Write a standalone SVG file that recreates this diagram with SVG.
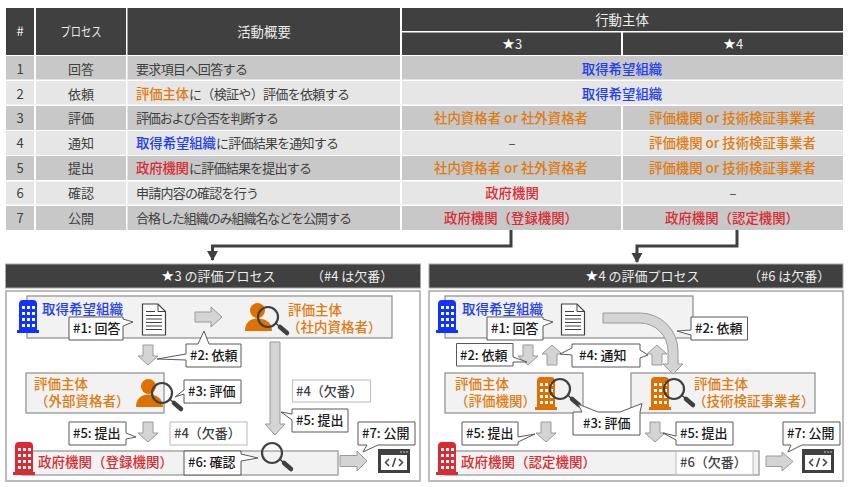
<svg xmlns="http://www.w3.org/2000/svg" width="850" height="487" viewBox="0 0 850 487">
<style>
text{font-family:"Noto Sans CJK JP","Noto Sans",sans-serif;font-size:13px;fill:#404040}
.m{text-anchor:middle}
.h{fill:#404040}.d{fill:#c8c8c8}.l{fill:#e6e6e6}
.hw{fill:#ededed;font-size:13px}
.o{fill:#e07b10}.b{fill:#1f3ff0}.r{fill:#d92b33}
.act{font-weight:500;font-size:13.4px}
.lab{font-size:13.5px;font-weight:500}
.box{fill:#f2f2f2;stroke:#8c8c8c;stroke-width:1.2}
.gov{fill:#f2f2f2;stroke:#a6a6a6;stroke-width:1.5}
.panel{fill:#fff;stroke:#a6a6a6;stroke-width:1.5}
.bar{fill:#404040;stroke:#a6a6a6;stroke-width:1}
.call{fill:#fff;stroke:#595959;stroke-width:1}
.miss{fill:#fff;stroke:#c4c4c4;stroke-width:1.2}
.ct{font-size:13px;font-weight:500;fill:#1a1a1a}
.mt{font-size:13px;fill:#404040;font-weight:500}
.ba{fill:#d4d4d4;stroke:#9a9a9a;stroke-width:1}
.c{fill:none;stroke:#404040;stroke-width:3}
.st{font-family:"DejaVu Sans",sans-serif;font-size:15px;fill:#fff}
</style>
<defs>
<marker id="tip" markerUnits="userSpaceOnUse" markerWidth="12" markerHeight="12" refX="9" refY="6" orient="auto"><path d="M0 0.500L10 6L0 11.500Z" fill="#404040"/></marker>
<polygon id="dn" points="-5,0 5,0 5,11 10,11 0,20 -10,11 -5,11"/>
<symbol id="bld" viewBox="0 0 22 33" width="22" height="33" overflow="visible">
<path d="M2 4Q2 0 6 0H16Q20 0 20 4V30H22V33H0V30H2Z" fill="currentColor"/>
<g fill="#fff"><rect x="5" y="6" width="3" height="3"/><rect x="10" y="6" width="3" height="3"/><rect x="15" y="6" width="3" height="3"/><rect x="5" y="12" width="3" height="3"/><rect x="10" y="12" width="3" height="3"/><rect x="15" y="12" width="3" height="3"/><rect x="5" y="18" width="3" height="3"/><rect x="10" y="18" width="3" height="3"/><rect x="15" y="18" width="3" height="3"/><rect x="5" y="24" width="3" height="3"/><rect x="10" y="24" width="3" height="3"/><rect x="15" y="24" width="3" height="3"/></g>
</symbol>
<g id="per" fill="#e07000"><circle cx="12.500" cy="7.500" r="7.500"/><path d="M0 28C0 19 6 15.500 13 15.500C20 15.500 27 19 27 28Z"/></g>
<g id="mag" fill="none" stroke="#404040"><circle r="10" stroke-width="2.200"/><path d="M7.500 6L12 10" stroke-width="1.500"/><path d="M12 10L19 16" stroke-width="4.500" stroke-linecap="round"/></g>
<g id="doc"><path d="M.5 .5H16L23.500 8V31.500H.5Z" fill="#fff" stroke="#404040" stroke-width="1.200"/><path d="M16 .5V8H23.500" fill="none" stroke="#404040"/><path d="M4 8H13M4 12H20M4 15.500H20M4 19H20M4 22.500H20M4 26H20" stroke="#404040" fill="none"/></g>
<g id="code"><rect width="32" height="24" fill="#404040"/><rect x="3" y="6" width="26" height="15" fill="#fff"/><path d="M22 3H24M25 3H27M28 3H30" stroke="#ccc" fill="none"/><path d="M11 10L7.500 13.500L11 17M21 10L24.500 13.500L21 17M17.500 9L14.500 18" fill="none" stroke="#404040" stroke-width="1.500"/></g>
</defs>
<rect width="850" height="487" fill="#fff"/>

<g id="table">
<g id="header">
<rect class="h" x="6" y="8" width="28" height="47"/><rect class="h" x="36" y="8" width="90" height="47"/><rect class="h" x="127.500" y="8" width="272.500" height="47"/>
<rect class="h" x="402" y="8" width="441" height="23"/><rect class="h" x="402" y="32.500" width="219" height="22.500"/><rect class="h" x="623" y="32.500" width="220" height="22.500"/>
<text class="hw m" x="20" y="36">#</text><text class="hw m" x="81" y="36" textLength="41" lengthAdjust="spacingAndGlyphs">プロセス</text><text class="hw m" x="264" y="36.500" style="font-size:13.400px">活動概要</text>
<text class="hw m" x="622" y="24.500" style="font-size:13.400px">行動主体</text><text class="hw m" x="512" y="49"><tspan class="st">★</tspan>3</text><text class="hw m" x="733" y="49"><tspan class="st">★</tspan>4</text>
</g>
<g id="rows">
<rect class="d" x="6" y="56" width="28" height="23.500"/><rect class="d" x="36" y="56" width="90" height="23.500"/><rect class="d" x="127.500" y="56" width="272.500" height="23.500"/><rect class="d" x="402" y="56" width="441" height="23.500"/>
<rect class="l" x="6" y="81" width="28" height="23.500"/><rect class="l" x="36" y="81" width="90" height="23.500"/><rect class="l" x="127.500" y="81" width="272.500" height="23.500"/><rect class="l" x="402" y="81" width="441" height="23.500"/>
<rect class="d" x="6" y="106" width="28" height="24"/><rect class="d" x="36" y="106" width="90" height="24"/><rect class="d" x="127.500" y="106" width="272.500" height="24"/><rect class="d" x="402" y="106" width="219" height="24"/><rect class="d" x="623" y="106" width="220" height="24"/>
<rect class="l" x="6" y="131" width="28" height="24"/><rect class="l" x="36" y="131" width="90" height="24"/><rect class="l" x="127.500" y="131" width="272.500" height="24"/><rect class="l" x="402" y="131" width="219" height="24"/><rect class="l" x="623" y="131" width="220" height="24"/>
<rect class="d" x="6" y="156" width="28" height="24"/><rect class="d" x="36" y="156" width="90" height="24"/><rect class="d" x="127.500" y="156" width="272.500" height="24"/><rect class="d" x="402" y="156" width="219" height="24"/><rect class="d" x="623" y="156" width="220" height="24"/>
<rect class="l" x="6" y="181.500" width="28" height="23"/><rect class="l" x="36" y="181.500" width="90" height="23"/><rect class="l" x="127.500" y="181.500" width="272.500" height="23"/><rect class="l" x="402" y="181.500" width="219" height="23"/><rect class="l" x="623" y="181.500" width="220" height="23"/>
<rect class="d" x="6" y="206" width="28" height="24"/><rect class="d" x="36" y="206" width="90" height="24"/><rect class="d" x="127.500" y="206" width="272.500" height="24"/><rect class="d" x="402" y="206" width="219" height="24"/><rect class="d" x="623" y="206" width="220" height="24"/>

<text class="m" x="20" y="73.500">1</text><text class="m" x="81" y="73.500">回答</text><text x="136" y="73.500" textLength="112">要求項目へ回答する</text><text class="b act m" x="622" y="73.500">取得希望組織</text>
<text class="m" x="20" y="98.500">2</text><text class="m" x="81" y="98.500">依頼</text><text class="o act" x="136" y="98.500" textLength="53">評価主体</text><text x="189" y="98.500" textLength="161">に（検証や）評価を依頼する</text><text class="b act m" x="622" y="98.500">取得希望組織</text>
<text class="m" x="20" y="123">3</text><text class="m" x="81" y="123">評価</text><text x="136" y="123" textLength="143">評価および合否を判断する</text><text class="o act" x="434" y="123" textLength="154">社内資格者 or 社外資格者</text><text class="o act" x="649" y="123" textLength="167">評価機関 or 技術検証事業者</text>
<text class="m" x="20" y="148">4</text><text class="m" x="81" y="148">通知</text><text class="b act" x="136" y="148" textLength="80">取得希望組織</text><text x="216" y="148" textLength="123">に評価結果を通知する</text><text class="m" x="512" y="148">–</text><text class="o act" x="649" y="148" textLength="167">評価機関 or 技術検証事業者</text>
<text class="m" x="20" y="173">5</text><text class="m" x="81" y="173">提出</text><text class="r act" x="136" y="173" textLength="53">政府機関</text><text x="189" y="173" textLength="123">に評価結果を提出する</text><text class="o act" x="434" y="173" textLength="154">社内資格者 or 社外資格者</text><text class="o act" x="649" y="173" textLength="167">評価機関 or 技術検証事業者</text>
<text class="m" x="20" y="198">6</text><text class="m" x="81" y="198">確認</text><text x="136" y="198" textLength="123">申請内容の確認を行う</text><text class="r act m" x="512" y="198">政府機関</text><text class="m" x="733" y="198">–</text>
<text class="m" x="20" y="223">7</text><text class="m" x="81" y="223">公開</text><text x="136" y="223" textLength="216">合格した組織のみ組織名などを公開する</text><text class="r act" x="444" y="223" textLength="134">政府機関（登録機関）</text><text class="r act" x="665" y="223" textLength="134">政府機関（認定機関）</text>
</g>
</g>

<g id="panel3-frame">
<rect class="bar" x="5.500" y="264" width="415" height="24"/>
<text class="hw" x="161" y="281"><tspan class="st">★</tspan>3 の評価プロセス</text>
<text class="hw" x="311" y="281">（#4 は欠番）</text>
<rect class="panel" x="6" y="291" width="414" height="190"/>
</g>
<g id="panel4-frame">
<rect class="bar" x="429" y="264" width="414" height="24"/>
<text class="hw" x="585" y="281"><tspan class="st">★</tspan>4 の評価プロセス</text>
<text class="hw" x="748" y="281">（#6 は欠番）</text>
<rect class="panel" x="429" y="291" width="414" height="190"/>
</g>

<g id="applicant3"><rect class="box" x="27" y="296" width="365" height="42"/><use href="#bld" x="17" y="300" color="#1133ff"/><text class="b lab" x="42" y="314">取得希望組織</text><use href="#doc" x="142" y="303.500"/></g>
<g id="internal3"><use href="#per" x="245" y="303"/><use href="#mag" x="268" y="317"/><text class="o lab" x="288" y="315">評価主体</text><text class="o lab" x="287" y="332">（社内資格者）</text></g>
<g id="external3"><rect class="box" x="26" y="373" width="138" height="40"/><text class="o lab" x="34" y="389">評価主体</text><text class="o lab" x="35" y="406">（外部資格者）</text><use href="#per" x="136" y="379"/><use href="#mag" x="162" y="393"/></g>
<g id="gov3"><rect class="gov" x="22" y="451" width="316" height="24"/><use href="#bld" x="13" y="442" color="#d92b33"/><text class="r lab" x="38" y="467">政府機関（登録機関）</text><use href="#mag" x="272" y="453"/></g>
<g id="code3"><use href="#code" x="378" y="449"/></g>

<g id="applicant4"><rect class="box" x="445" y="296" width="248" height="42"/><use href="#bld" x="436" y="300" color="#1133ff"/><text class="b lab" x="462" y="314">取得希望組織</text><use href="#doc" x="561" y="303.500"/></g>
<g id="org4"><rect class="box" x="445" y="373" width="138" height="40"/><text class="o lab" x="455" y="389">評価主体</text><text class="o lab" x="455" y="406">（評価機関）</text><use href="#bld" x="535" y="377" color="#e07000"/><use href="#mag" x="560" y="389"/></g>
<g id="tech4"><rect class="box" x="631" y="373" width="184" height="40"/><use href="#bld" x="649" y="377" color="#e07000"/><use href="#mag" x="674" y="389"/><text class="o lab" x="694" y="389">評価主体</text><text class="o lab" x="693" y="406">（技術検証事業者）</text></g>
<g id="gov4"><rect class="gov" x="445" y="451" width="314" height="24"/><use href="#bld" x="436" y="442" color="#d92b33"/><text class="r lab" x="461" y="467">政府機関（認定機関）</text></g>
<g id="code4"><use href="#code" x="802" y="449"/></g>

<g id="connectors">
<path class="c" d="M511 230V246H212.500V260" marker-end="url(#tip)"/>
<path class="c" d="M737 230V246H637V262" marker-end="url(#tip)"/>
<polygon class="ba" points="195,312 211,312 211,307 222,317 211,327 211,322 195,322"/>
<use class="ba" href="#dn" x="148" y="345"/>
<use class="ba" href="#dn" x="148" y="422"/>
<polygon class="ba" points="270,342 280,342 280,424 285,424 275,435 265,424 270,424"/>
<polygon class="ba" points="340,455.500 357,455.500 357,451 367,461 357,471 357,466.500 340,466.500"/>
<path class="ba" d="M603 313H640A38 38 0 0 1 678 351V364H683L673 374L663 364H668V351A28 28 0 0 0 640 323H603Z"/>
<use class="ba" href="#dn" x="528" y="345"/>
<use class="ba" href="#dn" transform="translate(552 365) rotate(180)"/>
<use class="ba" href="#dn" transform="translate(657 365) rotate(180)"/>
<use class="ba" href="#dn" x="546" y="422"/>
<use class="ba" href="#dn" x="655" y="422"/>
<polygon class="ba" points="766,456 782,456 782,452 793,461.500 782,471 782,466.500 766,466.500"/>
</g>

<g id="c3-1"><path class="call" d="M69 317H123V319L133 322L123 326V340H69Z"/><text class="ct" x="73" y="333">#1: 回答</text></g>
<g id="c3-2"><path class="call" d="M186 344H198L204 331L209 344H241V367H186V360L157 359L186 354Z"/><text class="ct" x="190" y="360">#2: 依頼</text></g>
<g id="c3-3"><path class="call" d="M184 380H241V403H184V394L175 397L184 390Z"/><text class="ct" x="188" y="396">#3: 評価</text></g>
<g id="c3-4"><rect class="miss" x="292.500" y="380" width="78" height="22"/><text class="mt" x="296" y="396">#4（欠番）</text></g>
<g id="c3-5"><path class="call" d="M69 422H126V433L136 437L126 439V445H69Z"/><text class="ct" x="73" y="438">#5: 提出</text></g>
<g id="c3-6"><rect class="miss" x="170" y="422" width="77" height="23"/><text class="mt" x="174" y="438">#4（欠番）</text></g>
<g id="c3-7"><path class="call" d="M292 409H348V432H292V420L281 412L292 414Z"/><text class="ct" x="296" y="425">#5: 提出</text></g>
<g id="c3-8"><path class="call" d="M184 451H241V454L258 458L241 461V475H184Z"/><text class="ct" x="188" y="467">#6: 確認</text></g>
<g id="c3-9"><path class="call" d="M358 422H415V445H378L363 452L367 445H358Z"/><text class="ct" x="362" y="438">#7: 公開</text></g>

<g id="c4-1"><path class="call" d="M487 317H543V319L553 322L543 326V340H487Z"/><text class="ct" x="491" y="333">#1: 回答</text></g>
<g id="c4-2"><path class="call" d="M691 317H747.500V340H691V335L677 331L691 330Z"/><text class="ct" x="695" y="333">#2: 依頼</text></g>
<g id="c4-3"><path class="call" d="M456.500 343.500H513V357L527 362L513 362V366H456.500Z"/><text class="ct" x="460" y="360">#2: 依頼</text></g>
<g id="c4-4"><path class="call" d="M572 344H640V350L648 355L640 358V367H572V355L560 354L572 348Z"/><text class="ct" x="579" y="360">#4: 通知</text></g>
<g id="c4-5"><path class="call" d="M573 412H582L578 404L598 412H620L642 403.500L640 412V435H573Z"/><text class="ct" x="583" y="428">#3: 評価</text></g>
<g id="c4-6"><path class="call" d="M462 422H518V437L535 434L518 442V445H462Z"/><text class="ct" x="466" y="438">#5: 提出</text></g>
<g id="c4-7"><path class="call" d="M676 422H733V445H676V440L663 433L676 436Z"/><text class="ct" x="680" y="438">#5: 提出</text></g>
<g id="c4-8"><rect class="miss" x="676" y="451.500" width="77" height="23"/><text class="mt" x="680" y="467">#6（欠番）</text></g>
<g id="c4-9"><path class="call" d="M783 422H840V445H802L788 452L791 445H783Z"/><text class="ct" x="787" y="438">#7: 公開</text></g>
</svg>
